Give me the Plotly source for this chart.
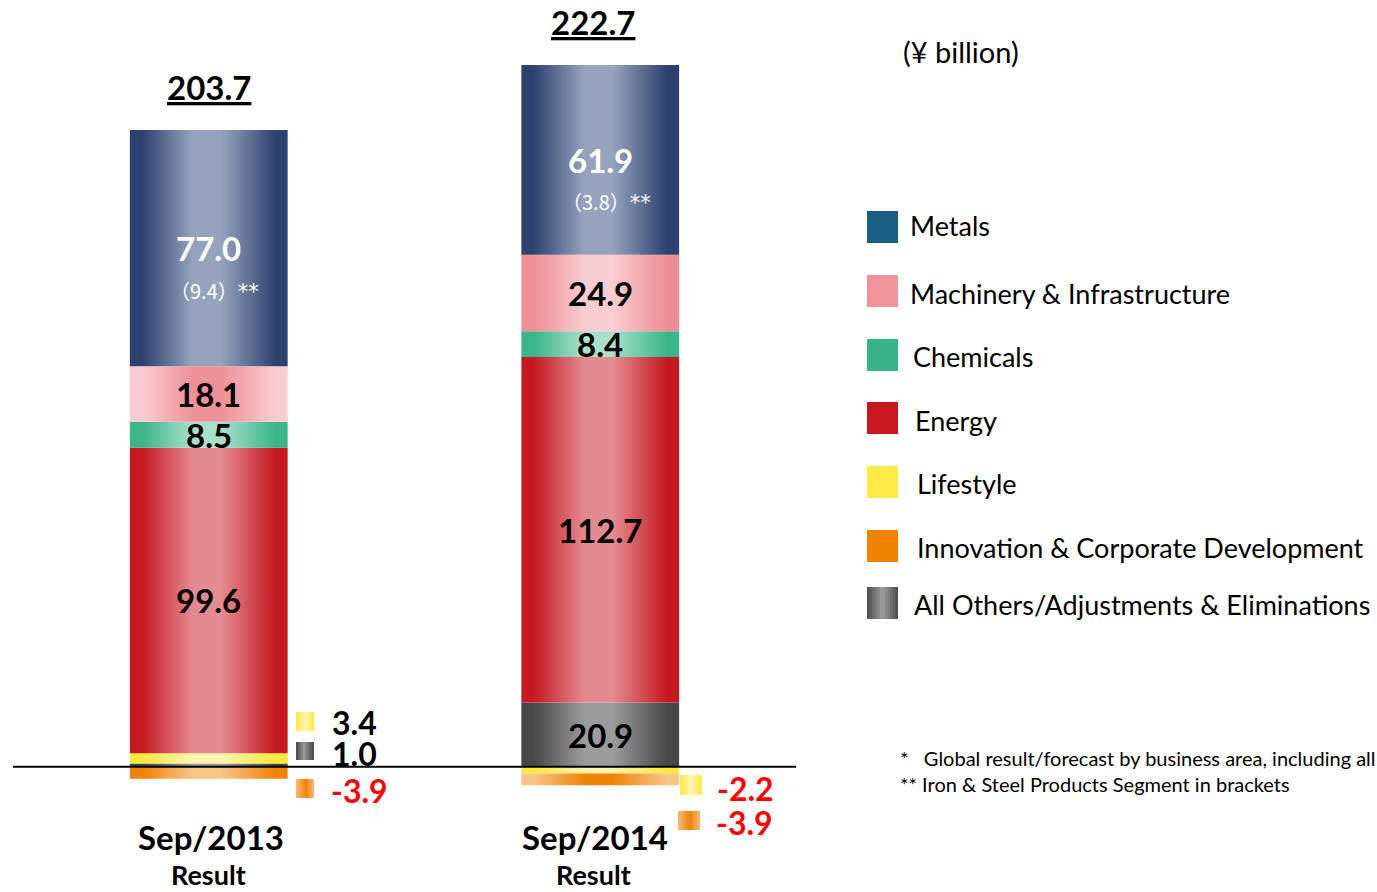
import plotly.graph_objects as go

# ---------------- data ----------------
categories = ["Sep/2013", "Sep/2014"]
category_sub = ["Result", "Result"]
# stacking order (positives build upward, negatives downward)
segment_names = ["All Others/Adjustments & Eliminations", "Lifestyle",
                 "Innovation & Corporate Development", "Energy", "Chemicals",
                 "Machinery & Infrastructure", "Metals"]
others = [1.0, 20.9]
lifestyle = [3.4, -2.2]
innovation = [-3.9, -3.9]
energy = [99.6, 112.7]
chemicals = [8.5, 8.4]
machinery = [18.1, 24.9]
metals = [77.0, 61.9]
iron_steel = [9.4, 3.8]
totals = [203.7, 222.7]
legend_names = ["Metals", "Machinery & Infrastructure", "Chemicals", "Energy",
                "Lifestyle", "Innovation & Corporate Development",
                "All Others/Adjustments & Eliminations"]
unit_label = "(¥ billion)"
footnotes = ["*   Global result/forecast by business area, including all",
             "** Iron & Steel Products Segment in brackets"]

series = {
    "All Others/Adjustments & Eliminations": others,
    "Lifestyle": lifestyle,
    "Innovation & Corporate Development": innovation,
    "Energy": energy,
    "Chemicals": chemicals,
    "Machinery & Infrastructure": machinery,
    "Metals": metals,
}

# ---------------- styles ----------------
FONT = "Lato, Carlito, Calibri, 'Open Sans', sans-serif"
CJK_FONT = "'Noto Sans CJK JP', 'Noto Sans', sans-serif"
W, H = 1377, 892
L, R, T, B = 13, 581, 46, 64
PW, PH = W - L - R, H - T - B
BAR_W = 0.403


def grad(edge, center):
    return [[0, edge], [0.08, edge], [0.40, center], [0.58, center], [0.92, edge], [1, edge]]


# per segment, per bar gradient
bar_grad = {
    "Metals": [grad("#2d4170", "#97a3bd"), grad("#2d4170", "#97a3bd")],
    "Machinery & Infrastructure": [grad("#f8cbd0", "#ef9198"), grad("#ee8f96", "#f8cdd1")],
    "Chemicals": [grad("#3bb589", "#a8e0ca"), grad("#3bb589", "#a8e0ca")],
    "Energy": [grad("#c41a22", "#e48b91"), grad("#c41a22", "#e48b91")],
    "Lifestyle": [grad("#ffe83c", "#fff4ad"), grad("#ffe83c", "#fff4ad")],
    "Innovation & Corporate Development": [grad("#ef8308", "#f8c586"), grad("#f8c586", "#ef8308")],
    "All Others/Adjustments & Eliminations": [grad("#474747", "#9c9c9c"), grad("#474747", "#9c9c9c")],
}
legend_color = {
    "Metals": "#1a5d80",
    "Machinery & Infrastructure": "#f0929a",
    "Chemicals": "#39b48a",
    "Energy": "#c8181f",
    "Lifestyle": "#ffeb47",
    "Innovation & Corporate Development": "#f08300",
    "All Others/Adjustments & Eliminations": None,  # gradient
}
label_color = {"Metals": "white"}

fig = go.Figure()

# ---------------- bars (gradient-filled rectangles on data axes) ----------------
seg_pos = {}
for i, cat in enumerate(categories):
    pos_base, neg_base = 0.0, 0.0
    for name in segment_names:
        v = series[name][i]
        if v >= 0:
            y0, y1 = pos_base, pos_base + v
            pos_base = y1
        else:
            y0, y1 = neg_base + v, neg_base
            neg_base = y0
        seg_pos[(name, i)] = (y0, y1)
        x0, x1 = i - BAR_W / 2, i + BAR_W / 2
        fig.add_trace(go.Scatter(
            x=[x0, x1, x1, x0, x0], y=[y0, y0, y1, y1, y0],
            mode="lines", line=dict(width=0), fill="toself",
            fillcolor=bar_grad[name][i][2][1],
            fillgradient=dict(type="horizontal", colorscale=bar_grad[name][i]),
            name=name, showlegend=False,
            hovertemplate=f"{cat}<br>{name}: {v:.1f}<extra></extra>",
        ))

annotations = []
shapes = []


def px_x(px):
    return (px - L) / PW


def px_y(py):
    return (H - B - py) / PH


def hex2rgb(h):
    h = h.lstrip("#")
    return tuple(int(h[k:k + 2], 16) for k in (0, 2, 4))


def interp(stops, t):
    for (a, ca), (b, cb) in zip(stops[:-1], stops[1:]):
        if a <= t <= b:
            f = 0 if b == a else (t - a) / (b - a)
            ra, rb = hex2rgb(ca), hex2rgb(cb)
            return "rgb(%d,%d,%d)" % tuple(round(ra[k] + (rb[k] - ra[k]) * f) for k in range(3))
    return stops[-1][1]


def grad_rect(x0, y0, x1, y1, stops, n=14):
    for k in range(n):
        t = (k + 0.5) / n
        xa = x0 + (x1 - x0) * k / n
        xb = min(x1, x0 + (x1 - x0) * (k + 1) / n + 1.0)
        shapes.append(dict(type="rect", xref="paper", yref="paper",
                           x0=px_x(xa), x1=px_x(xb),
                           y0=px_y(y1), y1=px_y(y0), line=dict(width=0),
                           fillcolor=interp(stops, t), layer="above"))


# inner labels
for i in range(len(categories)):
    for name in segment_names:
        v = series[name][i]
        if abs(v) < 5:
            continue
        y0, y1 = seg_pos[(name, i)]
        col = label_color.get(name, "black")
        annotations.append(dict(x=i, y=(y0 + y1) / 2, xref="x", yref="y",
                                text=f"<b>{v:.1f}</b>", showarrow=False,
                                font=dict(family=FONT, size=33, color=col)))
        if name == "Metals":
            annotations.append(dict(
                x=i, y=(y0 + y1) / 2, xref="x", yref="y", yshift=-42, xshift=6,
                text=(f"（{iron_steel[i]:.1f}）"
                      "<span style=\"font-family:'DejaVu Sans';font-size:21px\">**</span>"),
                showarrow=False, font=dict(family=CJK_FONT, size=20, color="white")))

# totals and category labels
TOTAL_XSHIFT = [0, -7]
for i in range(len(categories)):
    top = sum(v for v in (series[n][i] for n in segment_names) if v > 0)
    annotations.append(dict(x=i, y=top, xref="x", yref="y", yshift=43, xshift=TOTAL_XSHIFT[i],
                            text=f"<b><u>{totals[i]:.1f}</u></b>", showarrow=False,
                            font=dict(family=FONT, size=33, color="black")))
    annotations.append(dict(x=i, y=0, xref="x", yref="y", yshift=-70, xshift=TOTAL_XSHIFT[i] + 2,
                            text=f"<b>{categories[i]}</b>", showarrow=False,
                            font=dict(family=FONT, size=33, color="black")))
    annotations.append(dict(x=i, y=0, xref="x", yref="y", yshift=-108, xshift=TOTAL_XSHIFT[i],
                            text=f"<b>{category_sub[i]}</b>", showarrow=False,
                            font=dict(family=FONT, size=27, color="black")))

# small-value side labels with swatches (layout positions in px)
side_layout = {
    0: [("Lifestyle", 296, 712, 314, 731, 330, 722),
        ("All Others/Adjustments & Eliminations", 296, 742, 314, 760, 330, 753),
        ("Innovation & Corporate Development", 296, 779, 314, 798, 329, 790)],
    1: [("Lifestyle", 680, 775, 702, 795, 715, 788),
        ("Innovation & Corporate Development", 678, 811, 700, 830, 714, 822)],
}
side_grad = {
    "Lifestyle": [[0, "#ffe83c"], [0.5, "#fff6b5"], [1, "#ffe83c"]],
    "All Others/Adjustments & Eliminations": [[0, "#444444"], [0.45, "#9a9a9a"], [1, "#444444"]],
    "Innovation & Corporate Development": [[0, "#f6bb7a"], [0.55, "#ef8308"], [1, "#f6bb7a"]],
}
for i, items in side_layout.items():
    for name, sx0, sy0, sx1, sy1, tx, ty in items:
        v = series[name][i]
        grad_rect(sx0, sy0, sx1, sy1, side_grad[name], n=8)
        annotations.append(dict(x=px_x(tx), y=px_y(ty), xref="paper", yref="paper",
                                xanchor="left", yanchor="middle", showarrow=False,
                                text=f"<b>{v:.1f}</b>",
                                font=dict(family=FONT, size=32, color="red" if v < 0 else "black")))

# custom legend
legend_swatch_y = [211, 275, 339, 402, 466, 530, 587]
legend_text_x = [908, 908, 911, 913, 915, 915, 912]
legend_text_y = [226, 293, 356, 420, 483, 547, 604]
for k, name in enumerate(legend_names):
    y0 = legend_swatch_y[k]
    if legend_color[name]:
        shapes.append(dict(type="rect", xref="paper", yref="paper",
                           x0=px_x(867), x1=px_x(898), y0=px_y(y0 + 32), y1=px_y(y0),
                           line=dict(width=0), fillcolor=legend_color[name]))
    else:
        grad_rect(867, y0, 898, y0 + 32, [[0, "#4a4a4a"], [0.5, "#a0a0a0"], [1, "#4a4a4a"]], n=12)
    annotations.append(dict(x=px_x(legend_text_x[k]), y=px_y(legend_text_y[k]), xref="paper", yref="paper",
                            xanchor="left", yanchor="middle", showarrow=False, text=name,
                            font=dict(family=FONT, size=27, color="black")))

# unit + footnotes
annotations.append(dict(x=px_x(901), y=px_y(51), xref="paper", yref="paper", xanchor="left",
                        yanchor="middle", showarrow=False, text=unit_label,
                        font=dict(family=FONT, size=29, color="black")))
for k, fn in enumerate(footnotes):
    annotations.append(dict(x=px_x(898), y=px_y([758, 784][k]), xref="paper", yref="paper",
                            xanchor="left", yanchor="middle", showarrow=False, text=fn,
                            font=dict(family=FONT, size=20, color="black")))

# zero line across the plot area
shapes.append(dict(type="line", xref="paper", yref="y", x0=0, x1=1, y0=0, y1=0,
                   line=dict(color="black", width=2), layer="above"))

fig.update_layout(
    width=W, height=H,
    margin=dict(l=L, r=R, t=T, b=B, pad=0),
    paper_bgcolor="white", plot_bgcolor="white",
    showlegend=False,
    xaxis=dict(range=[-0.5, 1.5], visible=False, fixedrange=True),
    yaxis=dict(range=[-20, 235], visible=False, fixedrange=True),
    annotations=annotations, shapes=shapes,
    font=dict(family=FONT),
)

fig.write_html("out.html", config={"displayModeBar": False},
               post_script="document.body.style.margin='0';document.body.style.padding='0';"
                           "document.body.style.overflow='hidden';")
